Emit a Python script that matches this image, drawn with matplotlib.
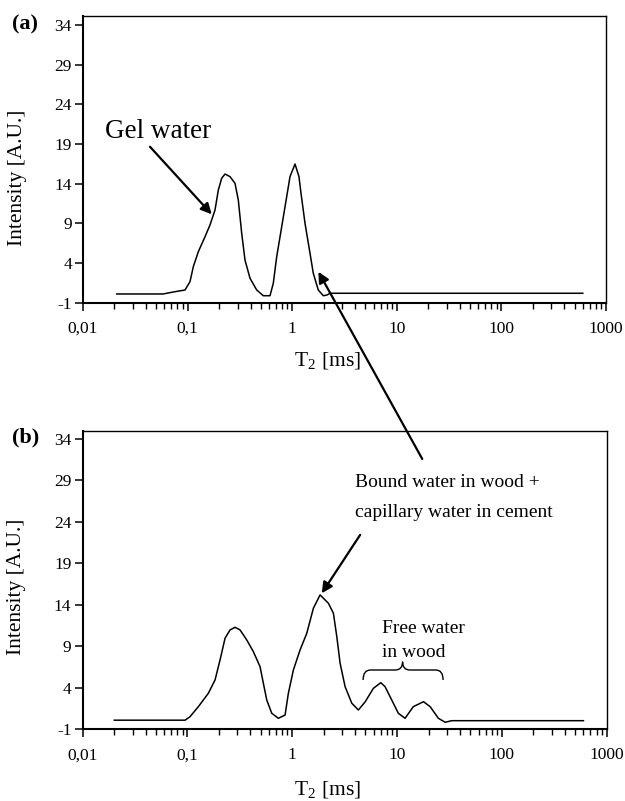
import numpy as np
import matplotlib
matplotlib.use("Agg")
import matplotlib.pyplot as plt
from matplotlib.ticker import FixedLocator, LogLocator, NullFormatter, FixedFormatter
from matplotlib.path import Path
from matplotlib.patches import PathPatch

plt.rcParams['font.family'] = ['Liberation Serif', 'DejaVu Serif']
plt.rcParams['mathtext.fontset'] = 'stix'
plt.rcParams['axes.unicode_minus'] = False

# ---- data ----
t2_a = [0.0210, 0.0582, 0.0758, 0.0944, 0.1054, 0.1134, 0.1266, 0.1467, 0.1637,
        0.1828, 0.1966, 0.2118, 0.2279, 0.2543, 0.2839, 0.3053, 0.3290, 0.3538,
        0.3950, 0.4578, 0.5293, 0.6135, 0.6596, 0.7110, 0.7936, 0.8857, 0.9528,
        1.0636, 1.161, 1.2139, 1.3264, 1.4803, 1.5910, 1.7763, 1.9832, 2.15,
        2.30, 600.0]
int_a = [0.1, 0.1, 0.39, 0.6, 1.65, 3.54, 5.43, 7.32, 8.8,
         10.69, 13.2, 14.7, 15.23, 14.9, 14.06, 11.95, 7.75, 4.38,
         2.08, 0.6, -0.12, -0.12, 1.45, 4.8, 8.58, 12.37, 14.9,
         16.49, 14.9, 12.8, 9.0, 5.23, 2.7, 0.6, -0.12, -0.03,
         0.19, 0.19]

t2_b = [0.0201, 0.0951, 0.1061, 0.1274, 0.1586, 0.1838, 0.2051, 0.2289, 0.2555,
        0.2852, 0.3184, 0.3688, 0.4264, 0.4938, 0.5311, 0.5723, 0.6388, 0.7386,
        0.8554, 0.9198, 1.0268, 1.1896, 1.3785, 1.5937, 1.8460, 2.2152, 2.4723,
        2.6655, 2.8656, 3.1978, 3.7050, 4.2817, 4.96, 5.96, 7.00, 7.69, 8.91,
        10.3, 11.94, 14.3, 17.9, 20.7, 24.8, 28.8, 33.3, 600.0]
int_b = [0.1, 0.1, 0.52, 1.73, 3.34, 4.95, 7.36, 9.98, 10.98,
         11.3, 10.98, 9.77, 8.36, 6.55, 4.55, 2.53, 0.93, 0.33,
         0.72, 3.34, 6.15, 8.57, 10.58, 13.6, 15.2, 14.2, 13.0,
         10.17, 6.96, 4.14, 2.14, 1.33, 2.3, 3.95, 4.62, 4.14, 2.53,
         0.93, 0.33, 1.73, 2.33, 1.73, 0.33, -0.15, 0.04, 0.04]

x_ticks = [0.01, 0.1, 1, 10, 100, 1000]
x_ticklabels = ["0,01", "0,1", "1", "10", "100", "1000"]
y_ticks = [-1, 4, 9, 14, 19, 24, 29, 34]

fig = plt.figure(figsize=(6.25, 8.01), dpi=100)
ax1 = fig.add_axes([0.1328, 0.6221, 0.8368, 0.3583])
ax2 = fig.add_axes([0.1320, 0.0895, 0.8387, 0.3728])

def style(ax, ymax, ylab_y):
    ax.set_xscale('log')
    ax.set_xlim(0.01, 1000)
    ax.set_ylim(-1, ymax)
    ax.xaxis.set_major_locator(FixedLocator(x_ticks))
    ax.xaxis.set_major_formatter(FixedFormatter(x_ticklabels))
    ax.xaxis.set_minor_locator(LogLocator(base=10, subs=np.arange(2, 10)))
    ax.xaxis.set_minor_formatter(NullFormatter())
    ax.set_yticks(y_ticks)
    ax.tick_params(axis='both', which='major', direction='out', length=6,
                   width=1.1, labelsize=12.5, top=False, right=False)
    ax.tick_params(axis='x', which='major', pad=7)
    ax.tick_params(axis='y', which='major', pad=2)
    ax.tick_params(axis='x', which='minor', direction='out', length=4, width=1.0)
    for s in ['left', 'bottom']:
        ax.spines[s].set_linewidth(1.5)
    for s in ['top', 'right']:
        ax.spines[s].set_linewidth(1.0)
    ax.set_ylabel('Intensity [A.U.]', fontsize=15.5)
    ax.yaxis.set_label_coords(-0.108, ylab_y)
    ax.set_xlabel(r'T$_\mathregular{2}$ [ms]', fontsize=15.5)
    ax.xaxis.set_label_coords(0.467, -0.165)

style(ax1, 35.2, 0.436)
style(ax2, 35.0, 0.477)

ax1.plot(t2_a, int_a, color='black', lw=1.1)
ax2.plot(t2_b, int_b, color='black', lw=1.1)

# panel labels
fig.text(12 / 625, 1 - 24 / 801, '(a)', fontsize=16, fontweight='bold', va='center', ha='left')
fig.text(12 / 625, 1 - 437 / 801, '(b)', fontsize=16, fontweight='bold', va='center', ha='left')

arrow = dict(arrowstyle='-|>', lw=1.6, color='black', mutation_scale=16, shrinkA=0, shrinkB=0)

# Gel water
ax1.text(0.0162, 19.77, 'Gel water', fontsize=19.5, ha='left', va='baseline')
ax1.annotate('', xy=(0.170, 10.15), xytext=(0.0437, 18.67), arrowprops=arrow)

# Big arrow from panel (b) to panel (a)
ax2.annotate('', xy=(1.78, 2.9), xycoords=ax1.transData,
             xytext=(17.4, 31.6), textcoords=ax2.transData,
             arrowprops=arrow, annotation_clip=False)

# Bound water annotation
ax2.text(3.98, 28.2, 'Bound water in wood +', fontsize=14, ha='left', va='baseline')
ax2.text(3.98, 24.65, 'capillary water in cement', fontsize=14, ha='left', va='baseline')
ax2.annotate('', xy=(1.916, 15.4), xytext=(4.45, 22.44), arrowprops=arrow)

# Free water annotation
ax2.text(7.16, 10.58, 'Free water', fontsize=14, ha='left', va='baseline')
ax2.text(7.16, 7.69, 'in wood', fontsize=14, ha='left', va='baseline')

# brace (in axes fraction)
def fx(x):
    return (np.log10(x) - np.log10(0.01)) / (np.log10(1000) - np.log10(0.01))

def fy(y, ymin=-1, ymax=35.0):
    return (y - ymin) / (ymax - ymin)

xl, xr, xm = fx(4.75), fx(27.5), fx(11.3)
yt, yb, ytip = fy(6.15), fy(4.95), fy(7.15)
dx = 0.014
verts = [(xl, yb), (xl, yt), (xl + dx, yt),
         (xm - dx, yt), (xm, yt), (xm, ytip),
         (xm, yt), (xm + dx, yt),
         (xr - dx, yt), (xr, yt), (xr, yb)]
codes = [Path.MOVETO, Path.CURVE3, Path.CURVE3,
         Path.LINETO, Path.CURVE3, Path.CURVE3,
         Path.CURVE3, Path.CURVE3,
         Path.LINETO, Path.CURVE3, Path.CURVE3]
ax2.add_patch(PathPatch(Path(verts, codes), transform=ax2.transAxes,
                        fill=False, lw=1.0, color='black'))

fig.savefig('out.png', dpi=100)
